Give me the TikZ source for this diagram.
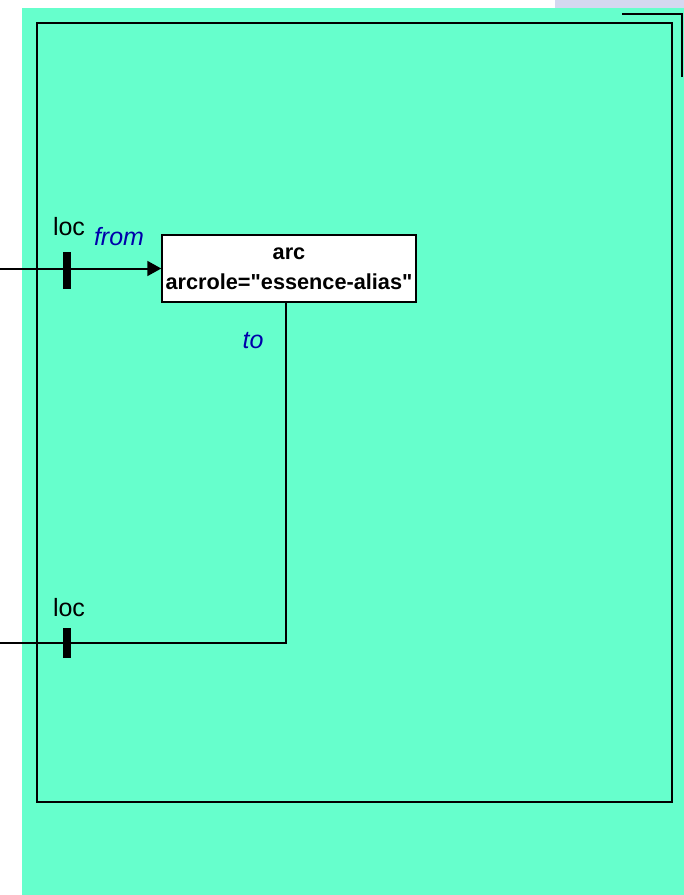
\documentclass[tikz,border=0pt]{standalone}
\usepackage{fontspec}
\setmainfont{Liberation Sans}[Ligatures=TeXOff]
\usetikzlibrary{arrows.meta}
\definecolor{bggreen}{RGB}{102,255,204}
\definecolor{lblblue}{RGB}{0,0,170}
\definecolor{lavender}{RGB}{212,216,240}
\newcommand{\sq}{\char34\relax}
\begin{document}
\begin{tikzpicture}[x=1pt,y=-1pt,
  lbl/.style={anchor=base,inner sep=0pt,font=\fontsize{25}{30}\selectfont},
  rolelbl/.style={lbl,text=lblblue,font=\fontsize{25}{30}\selectfont\itshape},
  arcbox/.style={draw=black,line width=1.5pt,fill=white,minimum width=254pt,minimum height=67pt,inner sep=0pt,align=center,font=\fontsize{21.7}{30}\selectfont\bfseries},
  tickmark/.style={fill=black,draw=none,minimum width=8pt,minimum height=37pt,inner sep=0pt},
  frame/.style={draw=black,line width=2pt}]
\useasboundingbox (0,0) rectangle (684,895);
\fill[white] (0,0) rectangle (684,895);
\fill[lavender] (555,0) rectangle (684,8);
\fill[bggreen] (22,8) rectangle (684,895);
\draw[frame] (37,23) rectangle (672,802);
\draw[line width=1.5pt] (622,14) -- (682,14) -- (682,77);
\node[arcbox] (arc) at (289,268.5) {arc\\arcrole=\sq essence-alias\sq};
\coordinate (in1) at (0,268.5);
\coordinate (out2) at (0,643);
\draw[line width=2pt,-{Triangle[length=14pt,width=15pt]}] (in1) -- (arc.west);
\draw[line width=1.2pt] ([xshift=-3pt]arc.south) |- (out2);
\node[tickmark] (t1) at (67,270.5) {};
\node[tickmark,minimum height=30pt] (t2) at (67,643) {};
\node[lbl] (loc1) at (69,235) {loc};
\node[rolelbl] (from) at (119,245) {from};
\node[rolelbl] (to) at (253,348) {to};
\node[lbl] (loc2) at (69,616) {loc};
\end{tikzpicture}
\end{document}
